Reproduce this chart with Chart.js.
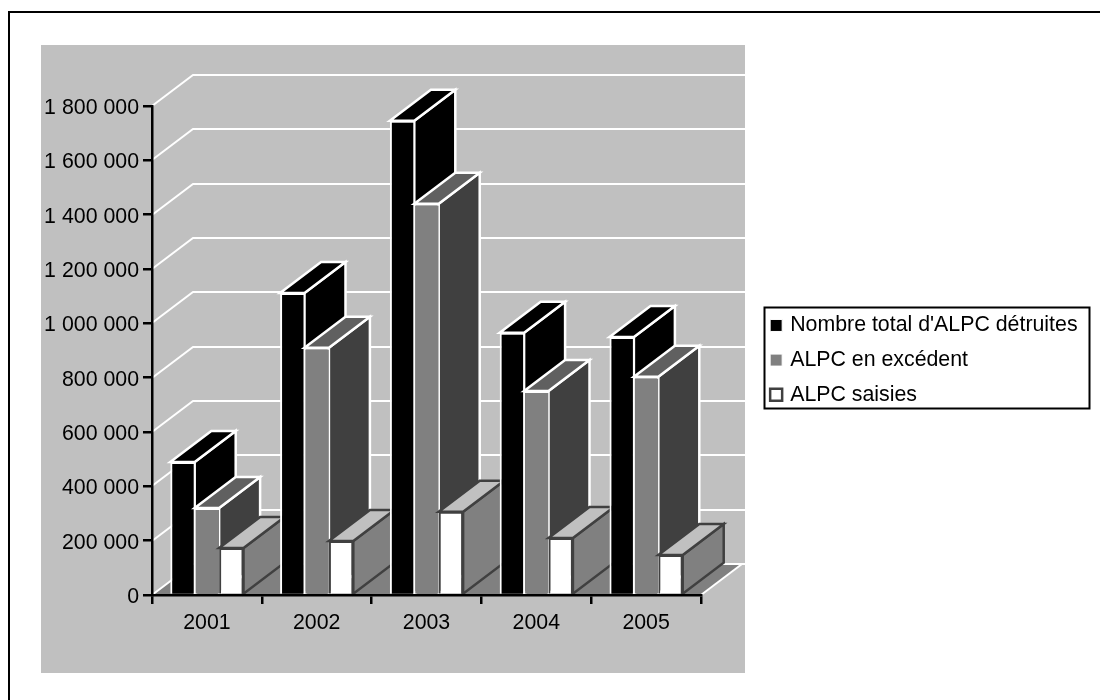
<!DOCTYPE html>
<html>
<head>
<meta charset="utf-8">
<script src="https://cdn.jsdelivr.net/npm/chart.js@4/dist/chart.umd.js"></script>
<style>
  html, body { margin: 0; padding: 0; background: #fff; }
  #wrap { width: 1100px; height: 700px; }
</style>
</head>
<body>
<div id="wrap"><canvas id="c" width="1100" height="700"></canvas></div>
<script>
const categories = ['2001', '2002', '2003', '2004', '2005'];
const totalDetruites = [490000, 1112000, 1746000, 965000, 950000];
const enExcedent = [320000, 910000, 1440000, 751000, 803000];
const saisies = [173000, 199000, 306000, 210000, 147000];

// decalage de la profondeur 3D, en pixels
const DX = 41, DY = -31;

// couleurs des faces pour chaque serie
const faces = [
  { top: '#000000', side: '#000000', line: '#ffffff' },
  { top: '#606060', side: '#404040', line: '#ffffff' },
  { top: '#c0c0c0', side: '#808080', line: '#404040' }
];

function poly(ctx, pts, fill, line, lw) {
  ctx.beginPath();
  pts.forEach((p, i) => i ? ctx.lineTo(p[0], p[1]) : ctx.moveTo(p[0], p[1]));
  ctx.closePath();
  if (fill) { ctx.fillStyle = fill; ctx.fill(); }
  if (line) { ctx.strokeStyle = line; ctx.lineWidth = lw; ctx.lineJoin = 'miter'; ctx.stroke(); }
}

const scene3d = {
  id: 'scene3d',
  beforeLayout(chart) {
    // largeur fixe pour que la zone de trace s'arrete a 701
    const lg = chart.legend;
    if (!lg.fitOrig) {
      lg.fitOrig = lg.fit;
      lg.fit = function () { this.fitOrig(); this.width = 388; };
    }
  },
  afterLayout(chart) {
    const lg = chart.legend;
    lg.left = 759.5;
    lg.top = 301.5;
  },
  beforeDraw(chart) {
    const ctx = chart.ctx;
    // cadre exterieur et fond gris
    ctx.save();
    ctx.fillStyle = '#ffffff';
    ctx.fillRect(0, 0, 1100, 700);
    ctx.strokeStyle = '#000000';
    ctx.lineWidth = 2;
    ctx.beginPath();
    ctx.moveTo(9, 700);
    ctx.lineTo(9, 12);
    ctx.lineTo(1100, 12);
    ctx.stroke();
    ctx.fillStyle = '#c0c0c0';
    ctx.fillRect(41, 45, 704, 628);
    ctx.restore();
  },
  beforeDatasetsDraw(chart) {
    const ctx = chart.ctx;
    const a = chart.chartArea;
    const y = chart.scales.y;
    ctx.save();
    // sol
    poly(ctx, [[a.left, a.bottom], [a.left + DX, a.bottom + DY], [a.right + DX, a.bottom + DY], [a.right, a.bottom]], '#808080');
    // lignes du mur
    ctx.strokeStyle = '#ffffff';
    ctx.lineWidth = 2;
    y.ticks.forEach(t => {
      const py = Math.round(y.getPixelForValue(t.value));
      ctx.beginPath();
      ctx.moveTo(a.left, py);
      ctx.lineTo(a.left + DX, py + DY);
      ctx.lineTo(745, py + DY);
      ctx.stroke();
    });
    ctx.beginPath();
    ctx.moveTo(a.right, a.bottom);
    ctx.lineTo(a.right + DX, a.bottom + DY);
    ctx.stroke();
    // barres : categorie par categorie, de gauche a droite
    categories.forEach((_, i) => {
      chart.data.datasets.forEach((ds, d) => {
        const bar = chart.getDatasetMeta(d).data[i];
        const f = faces[d];
        const l = bar.x - bar.width / 2, r = bar.x + bar.width / 2;
        const top = bar.y, base = bar.base;
        poly(ctx, [[r, top], [r + DX, top + DY], [r + DX, base + DY], [r, base]], f.side, f.line, 2.5);
        poly(ctx, [[l, top], [l + DX, top + DY], [r + DX, top + DY], [r, top]], f.top, f.line, 2.5);
        bar.draw(ctx);
      });
    });
    ctx.restore();
    // on dessine les barres ici, pas de dessin par defaut
    return false;
  },
  afterDraw(chart) {
    const ctx = chart.ctx;
    ctx.save();
    ctx.strokeStyle = '#000000';
    ctx.lineWidth = 2;
    ctx.strokeRect(764.5, 307.5, 325, 101);
    ctx.restore();
  }
};

const labelFont = { family: '"Liberation Sans", Arial, sans-serif', size: 21.33 };

new Chart(document.getElementById('c'), {
  type: 'bar',
  data: {
    labels: categories,
    datasets: [
      { label: "Nombre total d'ALPC détruites", data: totalDetruites, backgroundColor: '#000000', borderColor: '#ffffff', borderWidth: { left: 2, right: 1, top: 2, bottom: 0 }, borderSkipped: 'bottom' },
      { label: 'ALPC en excédent', data: enExcedent, backgroundColor: '#808080', borderColor: '#ffffff', borderWidth: { left: 1, right: 0, top: 2, bottom: 0 }, borderSkipped: 'bottom' },
      { label: 'ALPC saisies', data: saisies, backgroundColor: '#ffffff', borderColor: '#404040', borderWidth: { left: 2, right: 2, top: 2, bottom: 0 }, borderSkipped: 'bottom' }
    ]
  },
  options: {
    responsive: false,
    animation: false,
    layout: { padding: { left: 41, top: 106, right: 11, bottom: 27 } },
    datasets: { bar: { categoryPercentage: 0.667, barPercentage: 1 } },
    plugins: {
      tooltip: { enabled: false },
      legend: {
        position: 'right',
        align: 'start',
        labels: {
          color: '#000000',
          font: labelFont,
          usePointStyle: true,
          pointStyle: 'rect',
          boxWidth: 6.7,
          boxHeight: 12,
          padding: 13.3,
          generateLabels(chart) {
            // seul le carre blanc garde un contour epais
            return Chart.defaults.plugins.legend.labels.generateLabels(chart).map((item, i) => ({ ...item, lineWidth: i === 2 ? 2.5 : 1 }));
          }
        }
      }
    },
    scales: {
      x: {
        afterFit(s) { s.height = 78; },
        grid: { drawOnChartArea: false, drawTicks: true, tickLength: 9, color: '#000000', lineWidth: 2.5 },
        border: { color: '#000000', width: 2.5, z: 1 },
        ticks: { color: '#000000', font: labelFont, padding: 6 }
      },
      y: {
        min: 0,
        max: 1800000,
        afterFit(s) { s.width = 111; },
        grid: { drawOnChartArea: false, drawTicks: true, tickLength: 9, color: '#000000', lineWidth: 2.5 },
        border: { color: '#000000', width: 2.5, z: 1 },
        ticks: {
          stepSize: 200000,
          color: '#000000',
          font: labelFont,
          padding: 4,
          labelOffset: 2,
          callback: v => String(v).replace(/\B(?=(\d{3})+$)/g, ' ')
        }
      }
    }
  },
  plugins: [scene3d]
});
</script>
</body>
</html>
